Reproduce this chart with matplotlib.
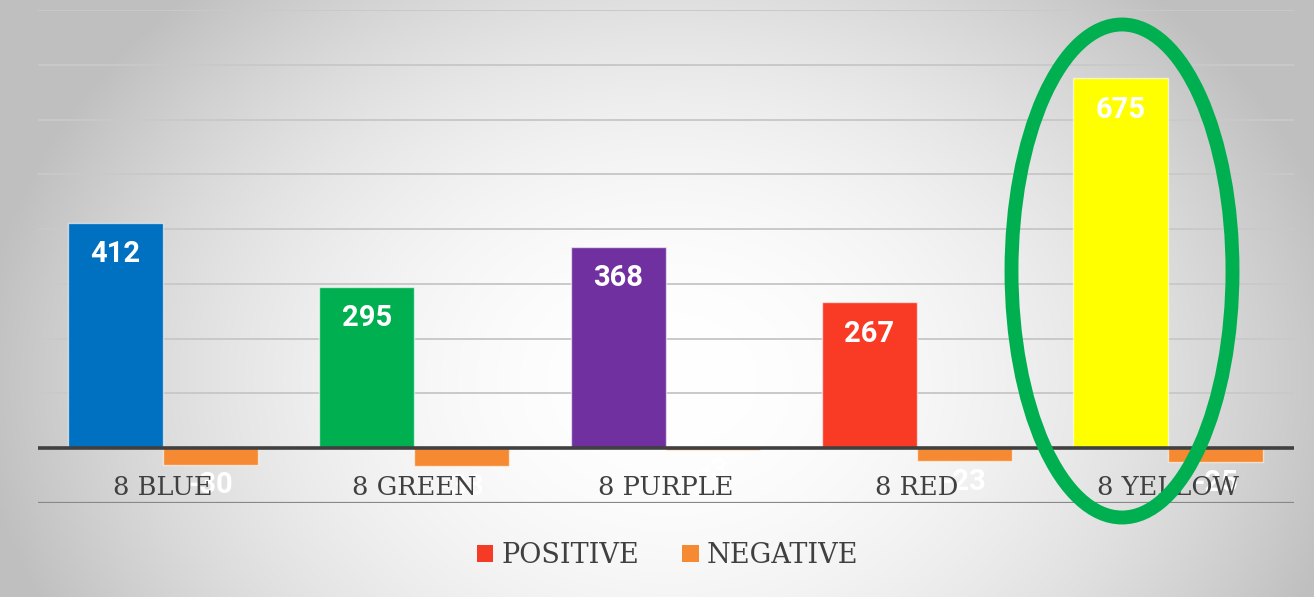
import numpy as np
import matplotlib
matplotlib.use("Agg")
import matplotlib.pyplot as plt
from matplotlib.patches import Ellipse, Patch

categories = ["8 BLUE", "8 GREEN", "8 PURPLE", "8 RED", "8 YELLOW"]
positive = [412, 295, 368, 267, 675]
negative = [-30, -33, -3, -23, -25]
pos_colors = ["#0070C0", "#00B050", "#7030A0", "#F93B26", "#FFFF00"]
neg_color = "#F68A33"
legend_labels = ["POSITIVE", "NEGATIVE"]
legend_pos_color = "#F53B26"

W, H = 1314, 597
fig = plt.figure(figsize=(W / 100, H / 100), dpi=100)

# background gradient
bg = fig.add_axes([0, 0, 1, 1], zorder=-10)
yy, xx = np.mgrid[0:H, 0:W]
r = np.sqrt(((xx - 670) / 720.0) ** 2 + ((yy - 380) / 560.0) ** 2)
val = np.clip(1.0 - 0.27 * r ** 2.0, 0.75, 1.0)
bg.imshow(np.dstack([val, val, val]), aspect="auto", extent=[0, 1, 0, 1])
bg.set_axis_off()

ax = fig.add_axes([37.5 / W, 94 / H, 1256 / W, 493 / H])
ax.patch.set_alpha(0)
ax.set_xlim(-0.5, len(categories) - 0.5)
ax.set_ylim(-100, 800)
for s in ax.spines.values():
    s.set_visible(False)
ax.set_xticks([])
ax.set_yticks([])

for gy in range(-100, 801, 100):
    if gy == 0:
        continue
    ax.axhline(gy, color="#888888" if gy == -100 else "#c9c9c9",
               lw=1.6 if gy == -100 else 1.4, zorder=0)

x = np.arange(len(categories))
bw = 0.378
ax.bar(x - bw / 2, positive, width=bw, color=pos_colors,
       edgecolor=(1, 1, 1, 0.6), linewidth=1, zorder=2)
ax.bar(x + bw / 2, negative, width=bw, color=neg_color,
       edgecolor=(1, 1, 1, 0.6), linewidth=1, zorder=2)
ax.axhline(0, color="#404040", lw=2.6, zorder=3)

for xi, v in zip(x, positive):
    ax.text(xi - bw / 2, v - 58, str(v), color="white", fontsize=21,
            fontweight="bold", family="Roboto", ha="center", va="center", zorder=4)
for xi, v in zip(x, negative):
    ax.text(xi + bw / 2, v - 38, str(v), color="white", fontsize=21,
            fontweight="bold", family="Roboto", ha="center", va="center", zorder=4)

for xi, c in zip(x, categories):
    ax.text(xi, -72, c, color="#404040", fontsize=18.5, family="DejaVu Serif",
            ha="center", va="center", zorder=5)

handles = [Patch(facecolor=legend_pos_color, edgecolor="none"),
           Patch(facecolor=neg_color, edgecolor="none")]
fig.legend(handles, legend_labels, loc="center", bbox_to_anchor=(0.508, 0.069),
           ncol=2, frameon=False, handlelength=0.6, handleheight=0.6,
           handletextpad=0.3, columnspacing=1.6,
           prop={"family": "DejaVu Serif", "size": 19.5}, labelcolor="#404040")

ell = Ellipse((1122 / W, 1 - 271 / H), 221 / W, 493 / H, transform=fig.transFigure,
              fill=False, edgecolor="#00B050", linewidth=10, zorder=20)
fig.patches.append(ell)

fig.savefig("out.png", dpi=100)
